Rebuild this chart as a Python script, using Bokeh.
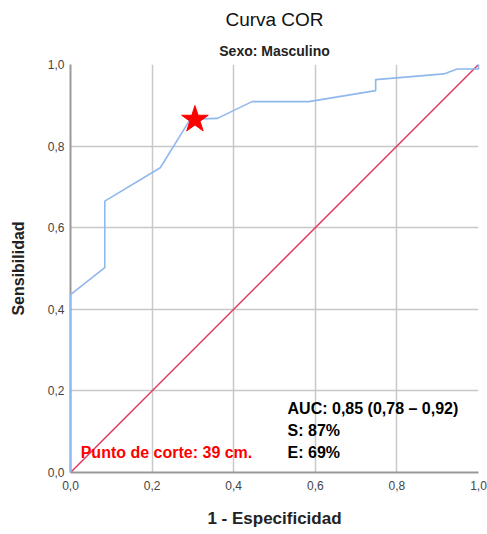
from bokeh.plotting import figure
from bokeh.models import Range1d, Title, Label, CustomJSTickFormatter, FixedTicker
from bokeh.embed import file_html
from bokeh.resources import INLINE

fpr = [0.0, 0.0, 0.0, 0.084, 0.084, 0.22, 0.29, 0.30, 0.36, 0.445, 0.584, 0.748, 0.748, 0.915, 0.948, 1.0, 1.0]
tpr = [0.0, 0.0, 0.436, 0.502, 0.665, 0.747, 0.86, 0.866, 0.868, 0.909, 0.909, 0.936, 0.963, 0.977, 0.989, 0.989, 1.0]
ref_x = [0.0, 1.0]
ref_y = [0.0, 1.0]
cut_x = [0.305]
cut_y = [0.865]
ticks = [0.0, 0.2, 0.4, 0.6, 0.8, 1.0]

FONT = "Liberation Sans"

p = figure(width=487, height=534, output_backend="svg", toolbar_location=None,
           x_range=Range1d(0, 1), y_range=Range1d(0, 1),
           min_border_left=70, min_border_right=9, min_border_top=64, min_border_bottom=62,
           background_fill_color="white", border_fill_color="white")
p.outline_line_color = None
p.title = None

sub = Title(text="Sexo: Masculino", align="center", text_font=FONT, text_font_size="14px",
            text_font_style="bold", text_color="#222222", standoff=11)
main = Title(text="Curva COR", align="center", text_font=FONT, text_font_size="19px",
             text_font_style="normal", text_color="#111111", standoff=12)
p.add_layout(sub, "above")
p.add_layout(main, "above")

fmt = CustomJSTickFormatter(code="return tick.toFixed(1).replace('.', ',');")
for ax in (p.xaxis[0], p.yaxis[0]):
    ax.ticker = FixedTicker(ticks=ticks)
    ax.formatter = fmt
    ax.major_tick_out = 0
    ax.major_tick_in = 0
    ax.minor_tick_out = 0
    ax.minor_tick_in = 0
    ax.axis_line_color = "#999999"
    ax.axis_line_width = 2
    ax.major_label_text_font = FONT
    ax.major_label_text_font_size = "12px"
    ax.major_label_text_color = "#444444"
    ax.axis_label_text_font = FONT
    ax.axis_label_text_font_style = "bold"
    ax.axis_label_text_color = "#222222"
p.xaxis.axis_label = "1 - Especificidad"
p.yaxis.axis_label = "Sensibilidad"
p.xaxis.axis_label_text_font_size = "17px"
p.yaxis.axis_label_text_font_size = "16px"
p.xaxis.major_label_standoff = 8
p.yaxis.major_label_standoff = 6
p.xaxis.axis_label_standoff = 16
p.yaxis.axis_label_standoff = 18

for g in (p.xgrid[0], p.ygrid[0]):
    g.ticker = FixedTicker(ticks=ticks)
    g.grid_line_color = "#c8c8c8"
    g.grid_line_width = 1.5

p.line(ref_x, ref_y, line_color="#e0385e", line_width=1.5)
p.line(fpr, tpr, line_color="#8fb8ec", line_width=1.6, level="overlay")
p.scatter(cut_x, cut_y, marker="star", size=28, fill_color="#ff0000", line_color="#ff0000",
          level="overlay")

labels = [
    ("AUC: 0,85 (0,78 \u2013 0,92)", 0.532, 0.157, "black"),
    ("S: 87%", 0.532, 0.103, "black"),
    ("E: 69%", 0.532, 0.049, "black"),
    ("Punto de corte: 39 cm.", 0.025, 0.049, "#ff0000"),
]
for t, x, y, c in labels:
    p.add_layout(Label(x=x, y=y, text=t, text_font=FONT, text_font_size="16px",
                       text_font_style="bold", text_color=c, text_baseline="middle",
                       text_align="left"))

open("out.html", "w").write(file_html(p, INLINE))
